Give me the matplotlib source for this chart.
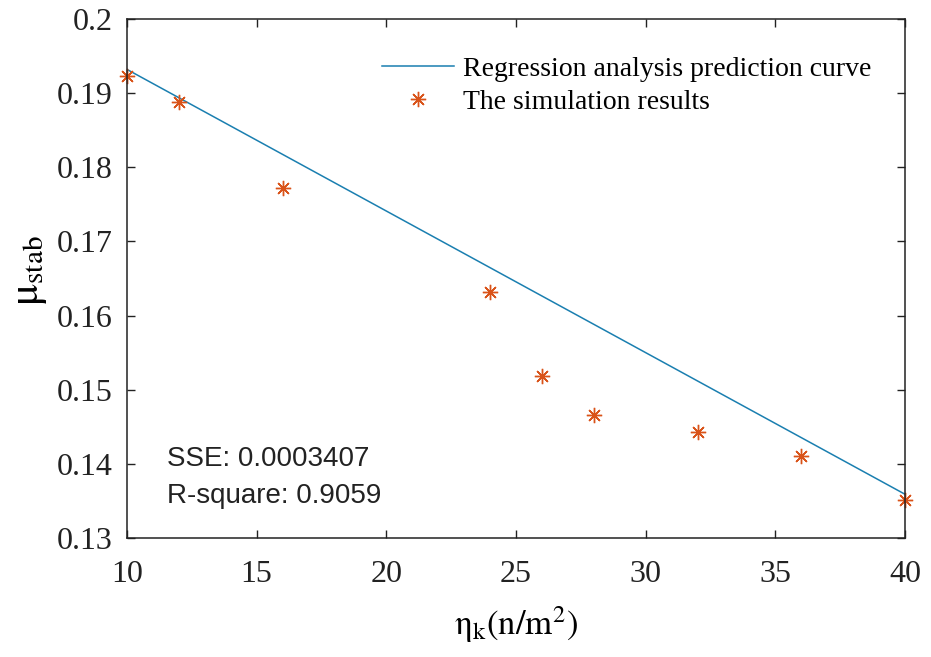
import matplotlib
matplotlib.use("Agg")
import matplotlib.pyplot as plt

# simulation results
eta_k = [10, 12, 16, 24, 26, 28, 32, 36, 40]
mu_stab = [0.1923, 0.1888, 0.1772, 0.1632, 0.1518, 0.1466, 0.1443, 0.1411, 0.1351]

# regression curve end points
fit_x = [10, 40]
fit_y = [0.1932, 0.1359]

x_ticks = [10, 15, 20, 25, 30, 35, 40]
y_ticks = [0.13, 0.14, 0.15, 0.16, 0.17, 0.18, 0.19, 0.2]
y_tick_labels = ["0.13", "0.14", "0.15", "0.16", "0.17", "0.18", "0.19", "0.2"]

plt.rcParams['font.family'] = ['Liberation Serif', 'DejaVu Serif']
plt.rcParams['mathtext.fontset'] = 'stix'

fig = plt.figure(figsize=(9.31, 6.57), dpi=100)
ax = fig.add_axes([127 / 931, 1 - 538 / 657, 778 / 931, 519 / 657])

ax.plot(fit_x, fit_y, color='#1a7fb0', lw=1.1, label='Regression analysis prediction curve')
ax.plot(eta_k, mu_stab, linestyle='none', marker=(8, 2, 0), markersize=11,
        markeredgewidth=1.0, color='#D95319', clip_on=False,
        label='The simulation results')

ax.set_xlim(10, 40)
ax.set_ylim(0.13, 0.2)
ax.set_xticks(x_ticks)
ax.set_yticks(y_ticks)
ax.set_yticklabels(y_tick_labels)
ax.tick_params(direction='in', length=6, width=1, top=True, right=True,
               labelsize=23, colors='#222222')
ax.tick_params(axis='x', pad=16)
ax.tick_params(axis='y', pad=10)
for s in ax.spines.values():
    s.set_linewidth(1.1)
    s.set_color('#222222')

ax.set_xlabel(r'$\mathrm{\eta_k(n/m^2)}$', fontsize=25, labelpad=11)
ax.set_ylabel(r'$\mathrm{\mu_{stab}}$', fontsize=30)
ax.yaxis.set_label_coords(-0.10, 0.516)

leg = ax.legend(loc='upper left', bbox_to_anchor=(0.328, 0.928), fontsize=20,
                frameon=False, handlelength=2.6, handletextpad=0.3,
                labelspacing=0.28, borderpad=0, borderaxespad=0)

ax.text(11.55, 0.1397, 'SSE: 0.0003407', family='Liberation Sans', fontsize=20,
        va='baseline', color='#222222')
ax.text(11.55, 0.1347, 'R-square: 0.9059', family='Liberation Sans', fontsize=20,
        va='baseline', color='#222222')

fig.savefig('out.png', dpi=100)
